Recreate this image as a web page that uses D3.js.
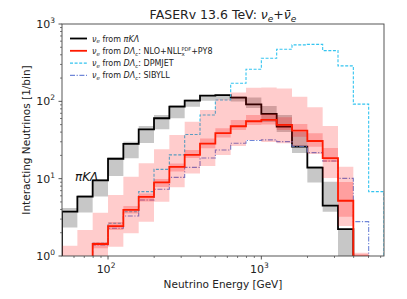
<!DOCTYPE html>
<html>
<head>
<meta charset="utf-8">
<script src="https://cdn.jsdelivr.net/npm/d3@7"></script>
<style>
  body { margin: 0; background: #fff; }
  svg { font-family: "DejaVu Sans", sans-serif; }
</style>
</head>
<body>
<svg id="chart" width="407" height="299"></svg>
<script>
// bin edges in GeV (10 log bins per decade)
const binEdges = [50.1, 63.1, 79.4, 100, 125.9, 158.5, 199.5, 251.2, 316.2, 398.1, 501.2,
  631, 794.3, 1000, 1258.9, 1584.9, 1995.3, 2511.9, 3162.3, 3981.1, 5011.9, 6309.6];

// nu_e from pi K Lambda, with its band
const piKLambda     = [3.74, 5.85, 9.48, 18.1, 28.1, 43.5, 60.4, 85.4, 102, 118.5, 120, 111.6, 91.2, 68.7, 47.1, 25.9, 13.9, 4.48, 2.22, 0, 0];
const piKLambdaLow  = [2.34, 3.65, 5.89, 10.8, 18.4, 29, 43.5, 60.4, 85.4, 102, 106, 99.7, 82.2, 54.1, 40.2, 21.5, 8.93, 3.74, 0, 0, 0];
const piKLambdaHigh = [4.18, 6.15, 9.9, 18.8, 30.1, 48.1, 66.7, 89.8, 105.9, 121, 123, 116, 112, 87.2, 66.7, 40.2, 14.6, 9.15, 2.22, 0, 0];

// nu_e from D Lambda_c: NLO+NLL, scale band and pdf band
const nloCentral   = [0, 0, 1.43, 2.44, 3.94, 5.8, 8.93, 14.2, 20.3, 28.4, 38.7, 47.6, 55.3, 57.5, 49.5, 41.8, 30.7, 18.4, 5.18, 0.98, 0];
const nloScaleLow  = [0, 0, 1.26, 2.17, 3.55, 5.07, 7.81, 12.4, 18.5, 24.7, 34.1, 42.7, 49.5, 50.3, 42.7, 34.9, 25.9, 16.4, 3.22, 0, 0];
const nloScaleHigh = [0, 0, 1.52, 2.75, 4.43, 6.44, 9.91, 15.7, 23.5, 33.1, 44.9, 57.5, 66.7, 68.7, 62.3, 51.0, 38.7, 25.0, 9.06, 1.05, 0];
const nloPdfLow    = [0, 0, 0, 1.32, 1.97, 2.78, 5.04, 7.74, 11.7, 14.6, 20.3, 26.5, 31.7, 29.9, 28.7, 26.5, 20.9, 10.2, 2.44, 0, 0];
const nloPdfHigh   = [1.36, 2.17, 3.63, 6.15, 10.6, 15.8, 24.0, 36.7, 54.6, 77.4, 107, 130, 150, 151, 146, 115, 83.9, 48.1, 14.3, 1.1, 0];

// generator predictions
const dpmjet = [0, 0, 1.46, 2.65, 3.74, 6.79, 13.2, 20.3, 37.3, 66.7, 104, 171, 260, 361, 472, 537, 545, 453, 287, 92, 6.79];
const sibyll = [0, 0, 1.39, 2.28, 3.29, 5.3, 7.29, 10.4, 14.0, 18.5, 23.5, 28.7, 31.2, 31.7, 30.1, 26.3, 21.7, 16.9, 10.1, 2.78, 0];

const xMajorTicks = [100, 1000];
const xMinorTicks = [60, 70, 80, 90, 200, 300, 400, 500, 600, 700, 800, 900, 2000, 3000, 4000, 5000, 6000];
const yMajorTicks = [1, 10, 100, 1000];
const yMinorTicks = [2, 3, 4, 5, 6, 7, 8, 9, 20, 30, 40, 50, 60, 70, 80, 90, 200, 300, 400, 500, 600, 700, 800, 900];

const FLOOR = 0.2;
const COLOR_RED = "#ff1a00";
const COLOR_DPMJET = "#33c4f0";
const COLOR_SIBYLL = "#6f86d8";

const margin = { top: 24, right: 23, bottom: 43, left: 62 };
const width = 407, height = 299;

const svg = d3.select("#chart");
const x = d3.scaleLog().domain([binEdges[0], binEdges[binEdges.length - 1]])
  .range([margin.left, width - margin.right]);
const y = d3.scaleLog().domain([1, 1000]).range([height - margin.bottom, margin.top]);

svg.append("defs").append("clipPath").attr("id", "plot-clip")
  .append("rect")
  .attr("x", margin.left).attr("y", margin.top)
  .attr("width", width - margin.left - margin.right)
  .attr("height", height - margin.top - margin.bottom);

const plot = svg.append("g").attr("clip-path", "url(#plot-clip)");

const yv = (v) => y(Math.max(v, FLOOR));

// histogram outline, closed down to the floor at both ends
const stepLine = d3.line().x((d) => x(d[0])).y((d) => yv(d[1])).curve(d3.curveStepAfter);
const stepPoints = (vals) => {
  const pts = [[binEdges[0], 0]];
  vals.forEach((v, i) => pts.push([binEdges[i], v]));
  pts.push([binEdges[vals.length], 0]);
  return pts;
};

const stepArea = d3.area()
  .x((d) => x(d[0]))
  .y0((d) => yv(d[1]))
  .y1((d) => yv(d[2]))
  .curve(d3.curveStepAfter);
const bandPoints = (low, high) => {
  const pts = low.map((l, i) => [binEdges[i], l, high[i]]);
  pts.push([binEdges[low.length], low[low.length - 1], high[high.length - 1]]);
  return pts;
};

// grey band + black line
plot.append("path").attr("d", stepArea(bandPoints(piKLambdaLow, piKLambdaHigh)))
  .attr("fill", "#000").attr("fill-opacity", 0.22);
plot.append("path").attr("d", stepLine(stepPoints(piKLambda)))
  .attr("fill", "none").attr("stroke", "#000").attr("stroke-width", 1.8);

// generators
plot.append("path").attr("d", stepLine(stepPoints(dpmjet)))
  .attr("fill", "none").attr("stroke", COLOR_DPMJET).attr("stroke-width", 1.1)
  .attr("stroke-dasharray", "3,1.6");
plot.append("path").attr("d", stepLine(stepPoints(sibyll)))
  .attr("fill", "none").attr("stroke", COLOR_SIBYLL).attr("stroke-width", 1.1)
  .attr("stroke-dasharray", "5,1.6,1.2,1.6");

// red bands + red line
plot.append("path").attr("d", stepArea(bandPoints(nloPdfLow, nloPdfHigh)))
  .attr("fill", "#ff0000").attr("fill-opacity", 0.2);
plot.append("path").attr("d", stepArea(bandPoints(nloScaleLow, nloScaleHigh)))
  .attr("fill", "#ff0000").attr("fill-opacity", 0.22);
plot.append("path").attr("d", stepLine(stepPoints(nloCentral)))
  .attr("fill", "none").attr("stroke", COLOR_RED).attr("stroke-width", 1.8);

// frame
svg.append("rect")
  .attr("x", margin.left).attr("y", margin.top)
  .attr("width", width - margin.left - margin.right)
  .attr("height", height - margin.top - margin.bottom)
  .attr("fill", "none").attr("stroke", "#444").attr("stroke-width", 0.9);

// ticks
const axisColor = "#444";
const xBase = height - margin.bottom;
svg.selectAll(".xmaj").data(xMajorTicks).join("line")
  .attr("x1", (d) => x(d)).attr("x2", (d) => x(d))
  .attr("y1", xBase).attr("y2", xBase + 3.5)
  .attr("stroke", axisColor).attr("stroke-width", 0.9);
svg.selectAll(".xmin").data(xMinorTicks).join("line")
  .attr("x1", (d) => x(d)).attr("x2", (d) => x(d))
  .attr("y1", xBase).attr("y2", xBase + 2)
  .attr("stroke", axisColor).attr("stroke-width", 0.7);
svg.selectAll(".ymaj").data(yMajorTicks).join("line")
  .attr("x1", margin.left - 3.5).attr("x2", margin.left)
  .attr("y1", (d) => y(d)).attr("y2", (d) => y(d))
  .attr("stroke", axisColor).attr("stroke-width", 0.9);
svg.selectAll(".ymin").data(yMinorTicks).join("line")
  .attr("x1", margin.left - 2).attr("x2", margin.left)
  .attr("y1", (d) => y(d)).attr("y2", (d) => y(d))
  .attr("stroke", axisColor).attr("stroke-width", 0.7);

const powLabel = (sel) => {
  sel.each(function(d) {
    const t = d3.select(this);
    t.append("tspan").text("10");
    t.append("tspan").attr("dy", -5).attr("font-size", 7.5).text(Math.round(Math.log10(d)));
  });
};

svg.selectAll(".xlab").data(xMajorTicks).join("text")
  .attr("x", (d) => x(d) - 2).attr("y", xBase + 17)
  .attr("text-anchor", "middle").attr("font-size", 11).attr("fill", "#222")
  .call(powLabel);
svg.selectAll(".ylab").data(yMajorTicks).join("text")
  .attr("x", margin.left - 7).attr("y", (d) => y(d) + 4)
  .attr("text-anchor", "end").attr("font-size", 11).attr("fill", "#222")
  .call(powLabel);

// axis titles
svg.append("text")
  .attr("x", (margin.left + width - margin.right) / 2).attr("y", 288)
  .attr("text-anchor", "middle").attr("font-size", 10.5).attr("fill", "#222")
  .text("Neutrino Energy [GeV]");
svg.append("text")
  .attr("transform", "translate(30," + ((margin.top + height - margin.bottom) / 2) + ") rotate(-90)")
  .attr("text-anchor", "middle").attr("font-size", 10.5).attr("fill", "#222")
  .text("Interacting Neutrinos [1/bin]");

// title
const title = svg.append("text")
  .attr("x", (margin.left + width - margin.right) / 2).attr("y", 19)
  .attr("text-anchor", "middle").attr("font-size", 12.5).attr("fill", "#222");
title.append("tspan").text("FASERv 13.6 TeV: ");
title.append("tspan").attr("font-style", "italic").text("ν");
title.append("tspan").attr("font-style", "italic").attr("font-size", 9).attr("dy", 2.5).text("e");
title.append("tspan").attr("dy", -2.5).text("+");
title.append("tspan").attr("font-style", "italic").text("ν\u0304");
title.append("tspan").attr("font-style", "italic").attr("font-size", 9).attr("dy", 2.5).text("e");

// pi K Lambda annotation
svg.append("text")
  .attr("x", 75).attr("y", 181)
  .attr("font-size", 12).attr("font-style", "italic").attr("fill", "#111")
  .text("πKΛ");

// legend
const legendRows = [
  { color: "#000", width: 1.8, dash: null, label: "pikl" },
  { color: COLOR_RED, width: 1.8, dash: null, label: "nlo" },
  { color: COLOR_DPMJET, width: 1.1, dash: "3,1.6", label: "DPMJET" },
  { color: COLOR_SIBYLL, width: 1.1, dash: "5,1.6,1.2,1.6", label: "SIBYLL" }
];
const legend = svg.append("g");
legendRows.forEach((row, i) => {
  const cy = 38.5 + i * 12.3;
  legend.append("line")
    .attr("x1", 70).attr("x2", 87).attr("y1", cy).attr("y2", cy)
    .attr("stroke", row.color).attr("stroke-width", row.width)
    .attr("stroke-dasharray", row.dash);
  const t = legend.append("text").attr("x", 92).attr("y", cy + 3)
    .attr("font-size", 8).attr("fill", "#222");
  t.append("tspan").attr("font-style", "italic").text("ν");
  t.append("tspan").attr("font-style", "italic").attr("font-size", 5.5).attr("dy", 1.8).text("e");
  t.append("tspan").attr("dy", -1.8).text(" from ");
  if (row.label === "pikl") {
    t.append("tspan").attr("font-style", "italic").text("πKΛ");
  } else {
    t.append("tspan").attr("font-style", "italic").text("DΛ");
    t.append("tspan").attr("font-style", "italic").attr("font-size", 5.5).attr("dy", 1.8).text("c");
    t.append("tspan").attr("dy", -1.8).text(": ");
    if (row.label === "nlo") {
      t.append("tspan").text("NLO+NLL");
      t.append("tspan").attr("font-size", 5.5).attr("dy", 1.8).text("x");
      t.append("tspan").attr("font-size", 5).attr("dy", -4.6).attr("dx", -3.4).text("PDF");
      t.append("tspan").attr("dy", 2.8).text("+PY8");
    } else {
      t.append("tspan").text(row.label);
    }
  }
});
</script>
</body>
</html>
